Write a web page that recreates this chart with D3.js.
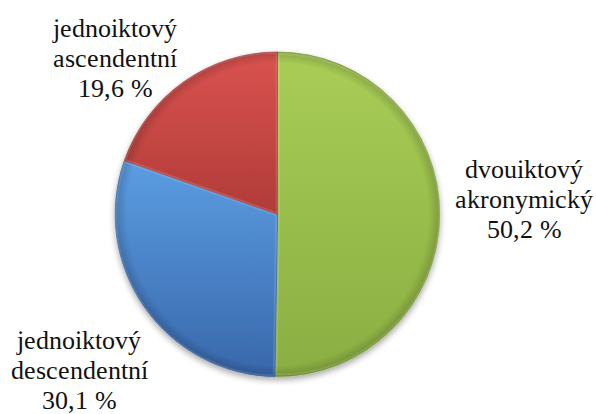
<!DOCTYPE html>
<html>
<head>
<meta charset="utf-8">
<script src="https://cdn.jsdelivr.net/npm/d3@7/dist/d3.min.js"></script>
<style>
  @font-face {
    font-family: "LabelSerif";
    src: local("Liberation Serif"), local("LiberationSerif"), local("LiberationSerif-Regular"),
         local("Times New Roman"), local("DejaVu Serif"), local("DejaVuSerif");
  }
  html, body { margin: 0; padding: 0; background: #ffffff; }
  svg { display: block; }
  .lbl { font-family: "LabelSerif", "Liberation Serif", "DejaVu Serif", serif; font-size: 26px; }
</style>
</head>
<body>
<svg id="chart" width="596" height="414"></svg>
<script>
// Slice data
const categories = ["dvouiktový akronymický", "jednoiktový descendentní", "jednoiktový ascendentní"];
const labelLines = [["dvouiktový", "akronymický"], ["jednoiktový", "descendentní"], ["jednoiktový", "ascendentní"]];
const shares = [50.2, 30.1, 19.6];
const percentLabels = ["50,2 %", "30,1 %", "19,6 %"];

// Fill colours per slice: light (top) -> dark (bottom)
const topColors = ["#a9cd56", "#5c9de2", "#da5350"];
const bottomColors = ["#8aae42", "#3867ab", "#b03b38"];

const width = 596, height = 414;
const cx = 277.5, cy = 214.3, radius = 162.3;

// Label anchor positions (centre x, first baseline y)
const labelPos = [
  { x: 524, y: 178 },
  { x: 79, y: 349 },
  { x: 115, y: 37 }
];
const lineGap = 30;

const svg = d3.select("#chart");
const defs = svg.append("defs");

// Gradients
shares.forEach((_, i) => {
  const g = defs.append("linearGradient")
    .attr("id", "grad" + i)
    .attr("x1", 0).attr("y1", 0).attr("x2", 0).attr("y2", 1);
  g.append("stop").attr("offset", "0%").attr("stop-color", topColors[i]);
  g.append("stop").attr("offset", "100%").attr("stop-color", bottomColors[i]);
});

// Rim shading for a soft bevel look
const rim = defs.append("radialGradient")
  .attr("id", "rim")
  .attr("gradientUnits", "userSpaceOnUse")
  .attr("cx", 0).attr("cy", 0).attr("r", radius);
rim.append("stop").attr("offset", "0.93").attr("stop-color", "#000").attr("stop-opacity", 0);
rim.append("stop").attr("offset", "1").attr("stop-color", "#000").attr("stop-opacity", 0.18);

const shadow = defs.append("filter")
  .attr("id", "shadow")
  .attr("x", "-20%").attr("y", "-20%").attr("width", "140%").attr("height", "140%");
shadow.append("feDropShadow")
  .attr("dx", 0).attr("dy", 3).attr("stdDeviation", 3)
  .attr("flood-color", "#000").attr("flood-opacity", 0.35);

const pie = d3.pie().sort(null).value(d => d);
const arcs = pie(shares);
const arc = d3.arc().innerRadius(0).outerRadius(radius);

const g = svg.append("g").attr("transform", `translate(${cx},${cy})`);
const slices = g.append("g").attr("filter", "url(#shadow)");

slices.selectAll("path.slice")
  .data(arcs)
  .join("path")
  .attr("class", "slice")
  .attr("d", arc)
  .attr("fill", (d, i) => `url(#grad${i})`)
  .attr("stroke", (d, i) => bottomColors[i])
  .attr("stroke-width", 0.8)
  .attr("stroke-linejoin", "round");

// Rim overlay
g.append("circle")
  .attr("r", radius)
  .attr("fill", "url(#rim)")
  .attr("pointer-events", "none");

// Soft highlight along slice edges
g.selectAll("path.edge")
  .data(arcs)
  .join("path")
  .attr("class", "edge")
  .attr("d", d3.arc().innerRadius(0).outerRadius(radius - 2))
  .attr("fill", "none")
  .attr("stroke", "#ffffff")
  .attr("stroke-opacity", 0.12)
  .attr("stroke-width", 2)
  .attr("transform", d => {
    const a = (d.startAngle + d.endAngle) / 2;
    return `translate(${Math.sin(a) * 1.5},${-Math.cos(a) * 1.5})`;
  });

// Labels
const labels = svg.append("g");
arcs.forEach((d, i) => {
  const lines = labelLines[i].concat([percentLabels[i]]);
  const t = labels.append("text")
    .attr("class", "lbl")
    .attr("text-anchor", "middle")
    .attr("fill", "#111");
  lines.forEach((ln, k) => {
    t.append("tspan")
      .attr("x", labelPos[i].x)
      .attr("y", labelPos[i].y + k * lineGap)
      .text(ln);
  });
});
</script>
</body>
</html>
